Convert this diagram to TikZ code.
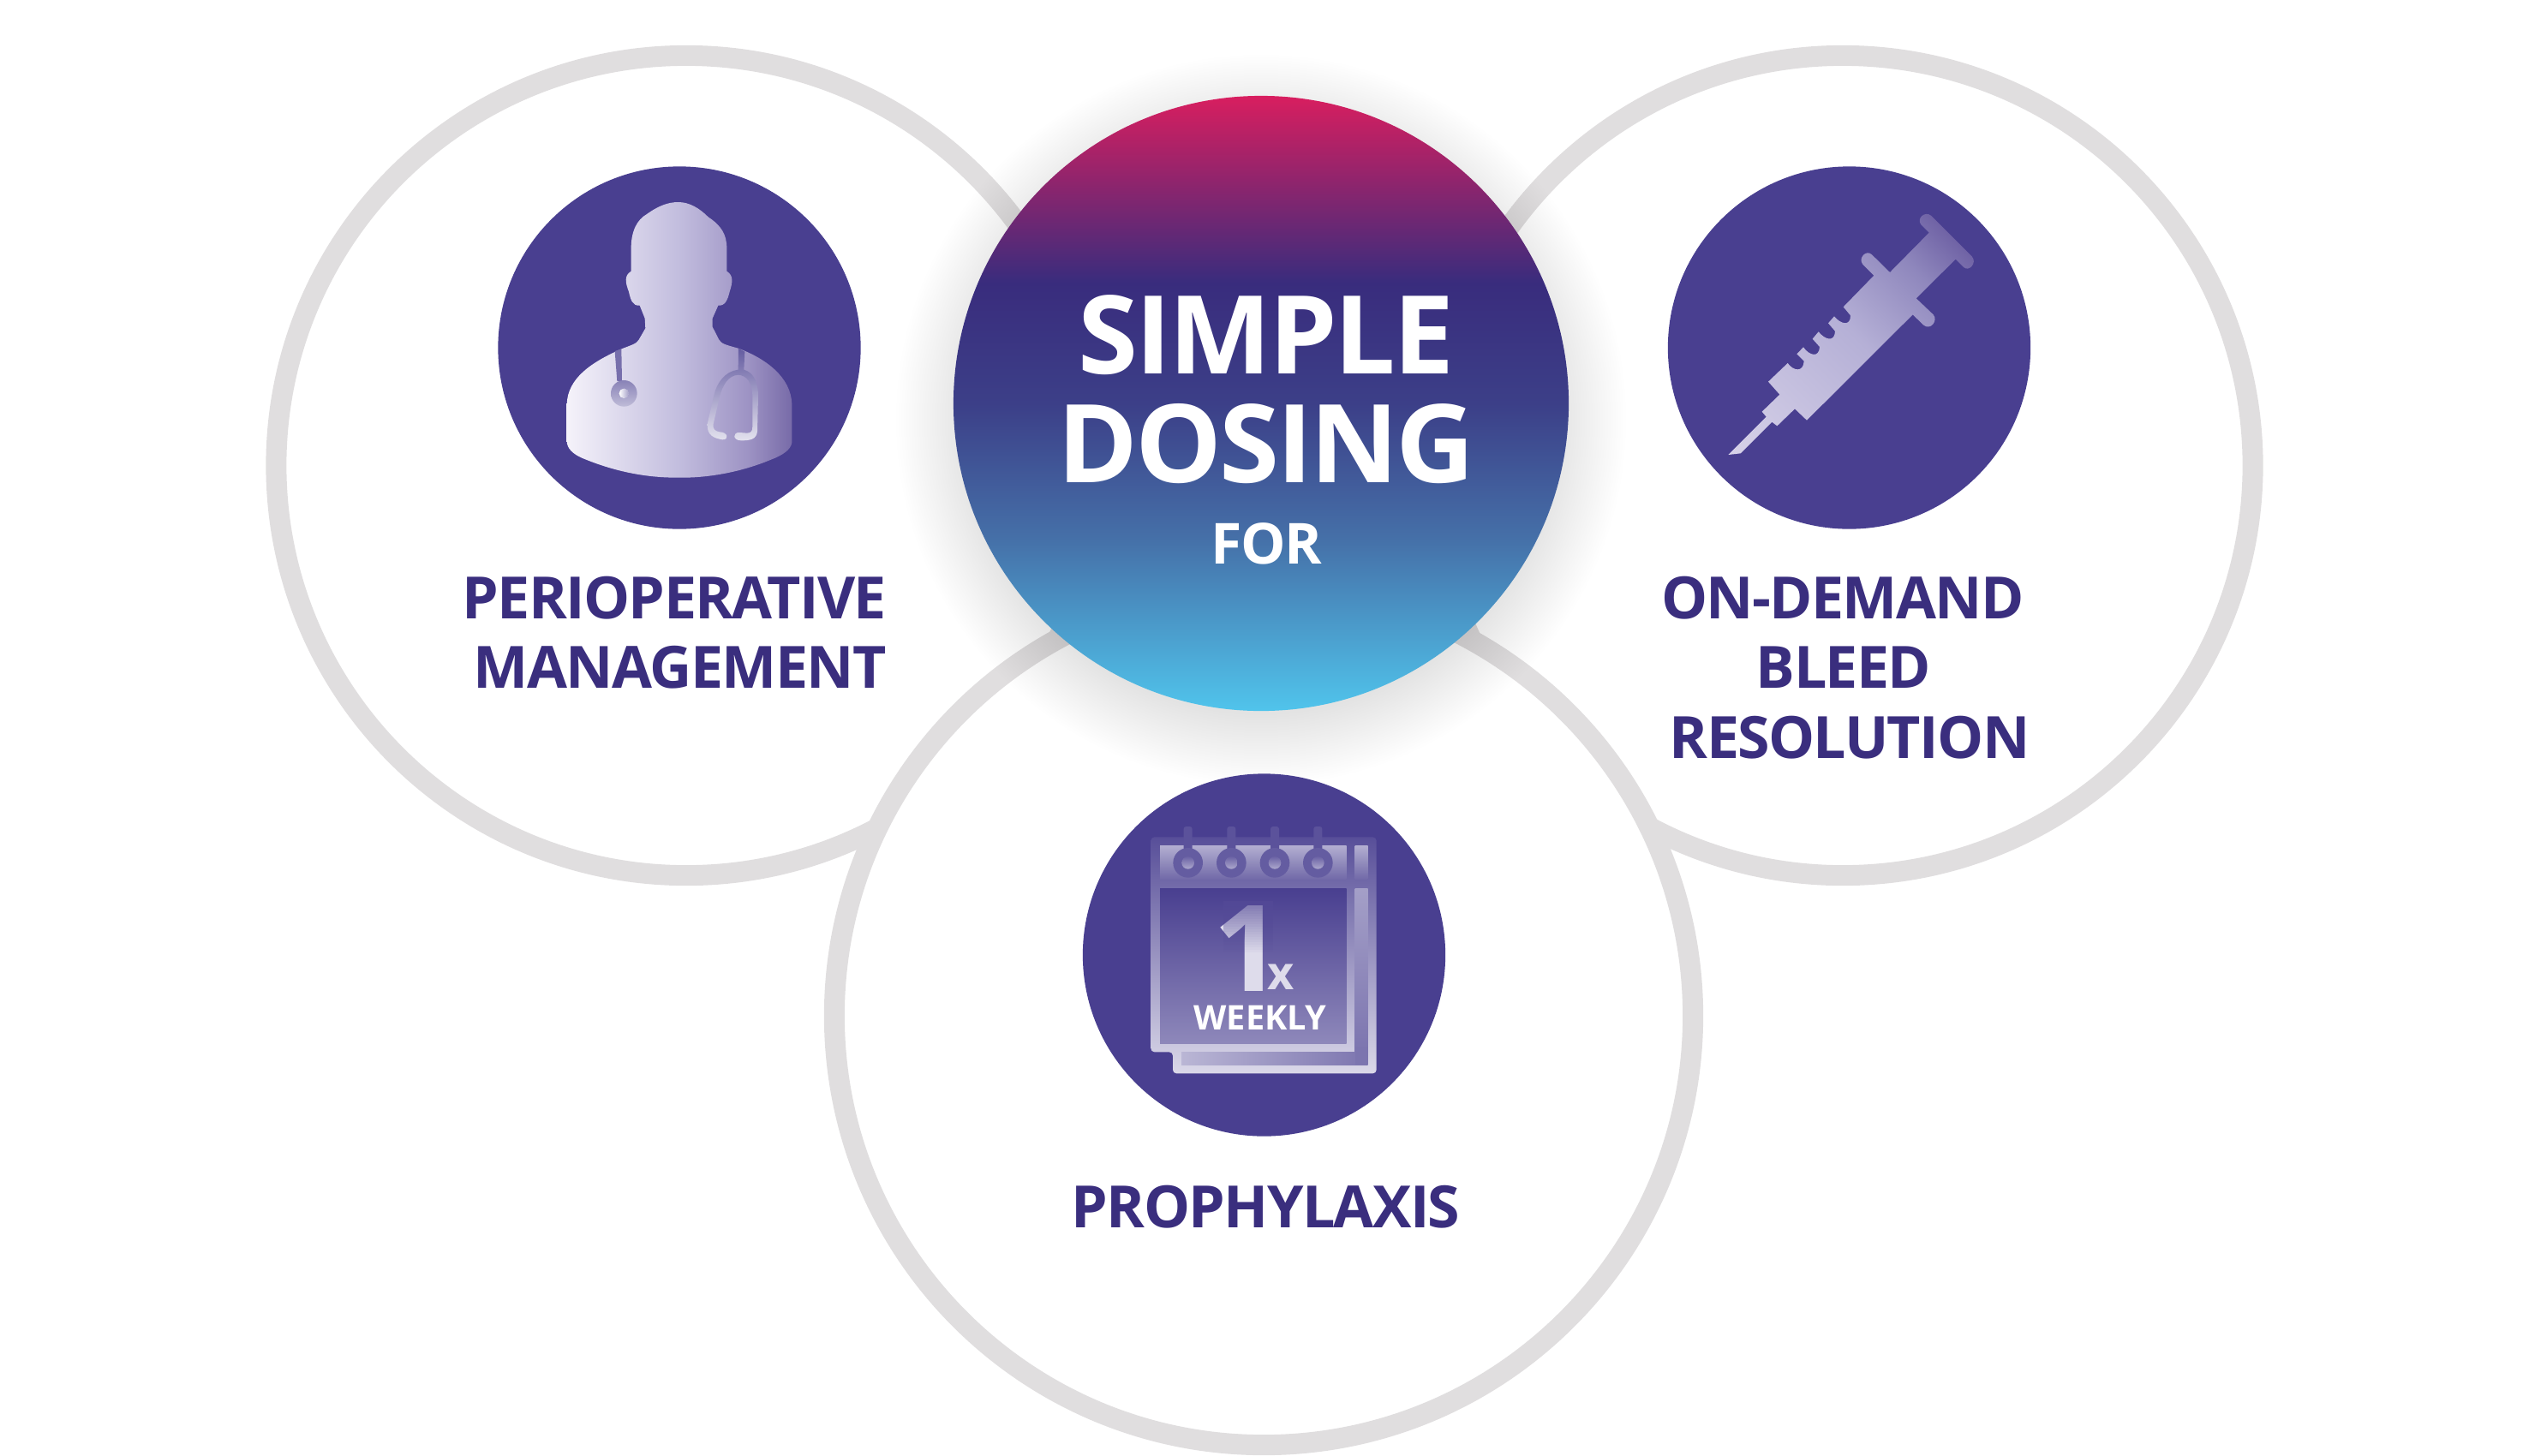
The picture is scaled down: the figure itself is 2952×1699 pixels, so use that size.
\documentclass[tikz,border=0pt]{standalone}
\usepackage{fontspec}
\setmainfont{Open Sans}
\newfontfamily\tightfont{Open Sans}[LetterSpace=-2.4]
\definecolor{ringgray}{HTML}{E0DEDF}
\definecolor{icondisc}{HTML}{493F90}
\definecolor{inkviolet}{HTML}{3A2E7E}
\pgfdeclareverticalshading{dosingshade}{100bp}{
  rgb(0bp)=(0.314,0.769,0.925);
  rgb(25bp)=(0.314,0.769,0.925);
  rgb(39bp)=(0.271,0.439,0.659);
  rgb(50bp)=(0.235,0.247,0.533);
  rgb(59.8bp)=(0.224,0.173,0.490);
  rgb(75bp)=(0.847,0.118,0.373);
  rgb(100bp)=(0.847,0.118,0.373)}
\pgfdeclarehorizontalshading{doctorshade}{100bp}{
  rgb(0bp)=(0.96,0.95,0.98);
  rgb(25bp)=(0.96,0.95,0.98);
  rgb(50bp)=(0.76,0.74,0.87);
  rgb(65bp)=(0.62,0.58,0.77);
  rgb(75bp)=(0.47,0.42,0.66);
  rgb(100bp)=(0.47,0.42,0.66)}
\pgfdeclareverticalshading{syringeshade}{100bp}{
  rgb(0bp)=(0.84,0.82,0.91);
  rgb(15bp)=(0.84,0.82,0.91);
  rgb(50bp)=(0.71,0.69,0.84);
  rgb(68bp)=(0.56,0.53,0.74);
  rgb(78bp)=(0.44,0.39,0.65);
  rgb(85bp)=(0.36,0.32,0.59);
  rgb(100bp)=(0.36,0.32,0.59)}
\tikzstyle{ring} = [circle, draw=ringgray, line width=0.6cm, fill=white, inner sep=0pt]
\tikzstyle{disc} = [circle, fill=icondisc, minimum size=10.58cm, inner sep=0pt]
\tikzstyle{usetext} = [anchor=base, inner sep=0pt, text=inkviolet, font=\tightfont\bfseries\fontsize{48.4}{48.4}\selectfont]
\tikzstyle{headtext} = [anchor=base, inner sep=0pt, text=white, font=\tightfont\bfseries\fontsize{90.3}{90.3}\selectfont]
\begin{document}
\begin{tikzpicture}[x=0.025cm, y=-0.025cm]
    \useasboundingbox (0,0) rectangle (2952,1699);
    % three rings
    \node (perioring) [ring, minimum size=23.925cm] at (801,543.5) {};
    \node (demandring) [ring, minimum size=23.925cm] at (2151,543.5) {};
    \node (prophring) [ring, minimum size=25.05cm] at (1475,1186) {};
    % soft shadow, then the centre disc
    \foreach \rad in {345,348,...,426}
        \fill[black, opacity=0.005] (1472,490) circle (\rad);
    \node (dosing) [circle, minimum size=17.95cm, inner sep=0pt, shade, shading=dosingshade] at (1472,471) {};
    \node (simple) [headtext] at (1478,436) {SIMPLE};
    \node (dosingword) [headtext] at (1478,563) {DOSING};
    \node (forword) [anchor=base, inner sep=0pt, text=white, font=\tightfont\bfseries\fontsize{47}{47}\selectfont] at (1478,658) {FOR};
    % icon discs
    \node (doctordisc) [disc] at (793,406) {};
    \node (syringedisc) [disc] at (2158.5,406) {};
    \node (calendardisc) [disc] at (1475.5,1115) {};
    % doctor
    \begin{scope}[shift={(560,170)}, scale=1/3]
        \shade[shading=doctorshade] (305,1035) -- (305,905) .. controls (308,815) and (390,760) .. (490,715)
            .. controls (525,700) and (550,695) .. (557,680) -- (580,640) -- (578,605) -- (560,560)
            .. controls (535,562) and (528,540) .. (522,512) .. controls (510,480) and (505,455) .. (530,440)
            -- (530,360) .. controls (530,300) and (550,260) .. (585,240) .. controls (620,215) and (655,198) .. (695,198)
            .. controls (735,198) and (770,220) .. (800,250) .. controls (845,280) and (865,310) .. (865,360)
            -- (865,440) .. controls (890,455) and (885,480) .. (875,512) .. controls (868,540) and (860,562) .. (835,560)
            -- (815,605) -- (815,635) -- (838,680) .. controls (845,695) and (870,700) .. (905,710)
            .. controls (1000,745) and (1090,810) .. (1093,905) -- (1093,1040) .. controls (1090,1065) and (1060,1085) .. (1020,1100)
            .. controls (900,1150) and (780,1165) .. (690,1163) .. controls (590,1163) and (480,1145) .. (360,1095)
            .. controls (325,1080) and (305,1060) .. (305,1035) -- cycle;
        % stethoscope
        \fill[icondisc!75!white] (473,720) -- (496,712) -- (498,825) -- (481,825) -- cycle;
        \shade[even odd rule, top color=icondisc!65!white, bottom color=icondisc!35!white] (505,868) circle (46) (505,868) circle (17);
        \shade[left color=white, right color=icondisc!50!white] (505,868) circle (17);
        \shade[top color=icondisc!85!white, middle color=icondisc!50!white, bottom color=icondisc!15!white] (906,710) -- (928,722) -- (925,785)
            .. controls (960,795) and (975,830) .. (975,880) -- (972,1000) .. controls (970,1030) and (945,1033) .. (915,1033)
            .. controls (885,1033) and (885,1003) .. (910,1005) -- (935,1007) .. controls (950,1007) and (955,1000) .. (955,985)
            -- (955,880) .. controls (955,830) and (935,805) .. (905,803) .. controls (870,805) and (850,840) .. (840,880)
            -- (818,975) .. controls (815,995) and (825,1000) .. (840,1003) .. controls (868,1003) and (875,1030) .. (850,1030)
            .. controls (820,1025) and (795,1015) .. (797,975) -- (820,875) .. controls (830,830) and (860,790) .. (905,785) -- cycle;
    \end{scope}
    % syringe
    \begin{scope}[shift={(1940,170)}, scale=1/3]
        \shade[shading=syringeshade, shading angle=-45]
            (232,1083) -- (365,950) -- (350,932) -- (412,872) -- (372,827) -- (440,762)
            .. controls (460,790) and (495,795) .. (497,755) -- (472,730) -- (495,706)
            .. controls (515,735) and (550,745) .. (552,705) -- (527,677) -- (548,652)
            .. controls (570,680) and (605,690) .. (606,650) -- (582,622) -- (603,598)
            .. controls (625,625) and (660,635) .. (660,595) -- (635,565) -- (742,455) -- (703,416)
            .. controls (685,395) and (715,362) .. (735,382) -- (798,444) -- (935,305) -- (907,277)
            .. controls (890,255) and (920,228) .. (942,245) -- (1085,388)
            .. controls (1105,410) and (1075,445) .. (1055,425) -- (1028,398) -- (890,535) -- (950,592)
            .. controls (968,612) and (940,650) .. (915,628) -- (878,592) -- (507,962) -- (465,922)
            -- (403,982) -- (385,968) -- (275,1078) -- cycle;
    \end{scope}
    % calendar
    \begin{scope}[shift={(1260,890)}, scale=1/3]
        \shade[top color=icondisc!92!white, bottom color=icondisc!20!white, rounded corners=3pt]
            (250,262) -- (1040,262) -- (1040,1090) -- (327,1090) -- (327,1015) -- (250,1015) -- cycle;
        \shade[top color=icondisc!42!white, bottom color=icondisc!78!white] (282,292) rectangle (935,410);
        \shade[top color=icondisc!42!white, bottom color=icondisc!78!white] (965,292) rectangle (1010,410);
        \shade[top color=icondisc!100!white, bottom color=icondisc!62!white] (282,443) rectangle (935,985);
        \shade[top color=icondisc!50!white, bottom color=icondisc!72!white] (965,443) rectangle (1010,1015);
        \shade[left color=icondisc!38!white, right color=icondisc!72!white] (357,1015) rectangle (1010,1060);
        \fill[icondisc!72!white] (965,1000) rectangle (1010,1060);
        \foreach \pin in {380,532,684,835} {
            \fill[icondisc!90!white, rounded corners=2pt] (\pin-15,225) rectangle (\pin+15,310);
            \fill[icondisc!85!white] (\pin,352) circle (52);
            \shade[top color=icondisc!82!white, bottom color=icondisc!45!white] (\pin,352) circle (22);
        }
    \end{scope}
    \node (onenum) [anchor=base, inner sep=0pt, text=icondisc!18!white, font=\bfseries\fontsize{99.6}{99.6}\selectfont] at (1456,1157) {1};
    % top of the numeral fades into the page
    \foreach \k [evaluate=\k as \op using 0.7*(1-\k/20)] in {0,...,19}
        \fill[icondisc!94!white, opacity=\op] (1428,1052+3*\k) rectangle (1486,1055+3*\k);
    \node (xmark) [anchor=base, inner sep=0pt, text=icondisc!18!white, font=\bfseries\fontsize{38.4}{38.4}\selectfont] at (1495,1155) {x};
    \node (weekly) [anchor=base, inner sep=0pt, text=white, font=\bfseries\fontsize{28.2}{28.2}\selectfont] at (1471,1202) {WEEKLY};
    % use labels
    \node (perioline) [usetext, anchor=base east] at (1035,722) {PERIOPERATIVE};
    \node (mgmtline) [usetext, anchor=base east] at (1035,803) {MANAGEMENT};
    \node (demandline) [usetext] at (2151,722) {ON-DEMAND};
    \node (bleedline) [usetext] at (2152,803) {BLEED};
    \node (resolline) [usetext] at (2159,885) {RESOLUTION};
    \node (prophline) [usetext] at (1477.5,1433) {PROPHYLAXIS};
\end{tikzpicture}
\end{document}
